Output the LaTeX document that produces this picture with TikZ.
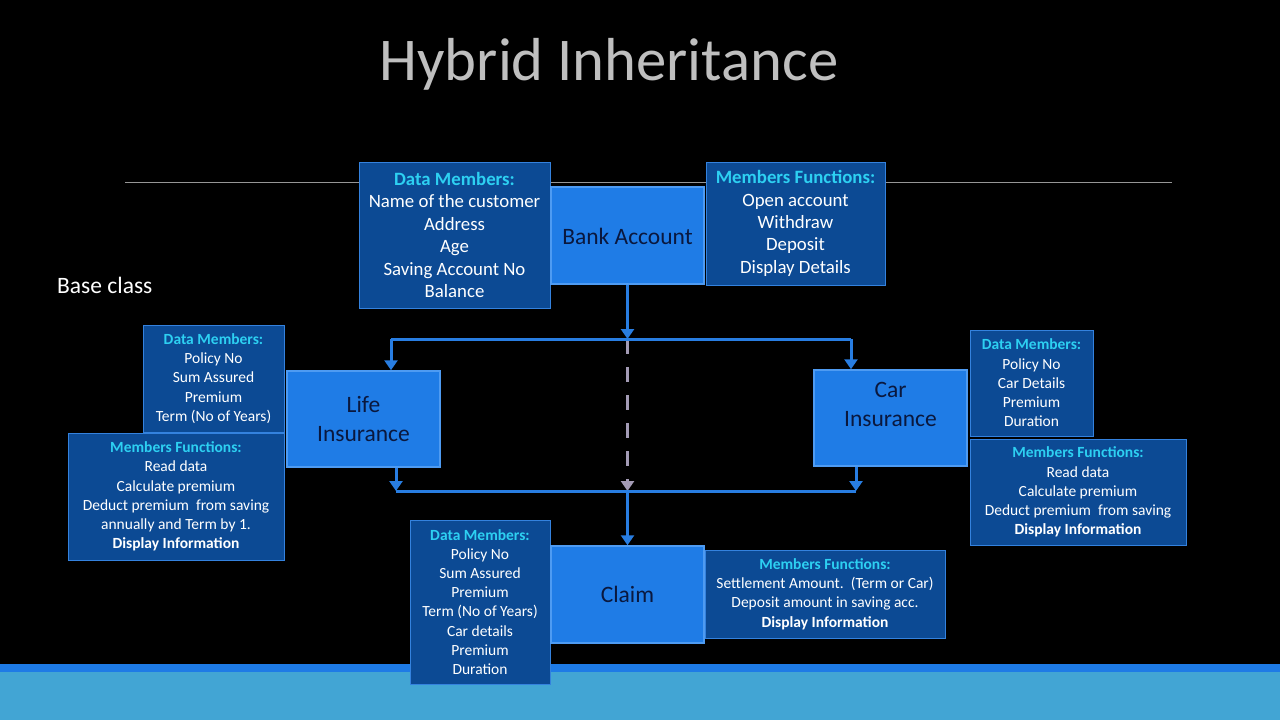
\documentclass[tikz,border=0pt]{standalone}
\usepackage{fontspec}
\setmainfont{Carlito}
\usetikzlibrary{arrows.meta}

\definecolor{boxfill}{RGB}{12,74,148}
\definecolor{boxedge}{RGB}{52,130,222}
\definecolor{classfill}{RGB}{31,124,230}
\definecolor{classedge}{RGB}{78,155,242}
\definecolor{classtext}{RGB}{10,24,62}
\definecolor{hdr}{RGB}{45,208,242}
\definecolor{conncol}{RGB}{40,125,225}
\definecolor{dashcol}{RGB}{163,155,181}
\definecolor{band}{RGB}{30,123,230}
\definecolor{lightband}{RGB}{66,165,212}
\definecolor{titlecol}{RGB}{191,191,191}
\definecolor{rulecol}{RGB}{150,150,150}

\newcommand{\hdrtext}[1]{{\bfseries\color{hdr}#1}}

\begin{document}
\begin{tikzpicture}[x=1pt,y=-1pt,
  infobox/.style={draw=boxedge, fill=boxfill, line width=1pt, inner sep=0pt,
    align=center, text=white},
  bigtext/.style={font=\fontsize{18.8}{22.4}\selectfont},
  smalltext/.style={font=\fontsize{15.5}{19.2}\selectfont},
  classbox/.style={draw=classedge, fill=classfill, line width=1.5pt, inner sep=0pt,
    minimum width=153pt, minimum height=97pt},
  classlabel/.style={text=classtext, align=center, font=\fontsize{23.5}{29}\selectfont},
  conn/.style={draw=conncol, line width=3pt},
  tip/.style={-{Triangle[width=13pt,length=10pt]}},
  inh/.style={draw=dashcol, line width=3pt, dash pattern=on 15pt off 13pt,
    -{Triangle[width=13pt,length=10pt]}}
]
% page background and footer band
\fill[black] (0,0) rectangle (1280,720);
\useasboundingbox (0,0) rectangle (1280,720);
\fill[band] (0,664) rectangle (1280,672);
\fill[lightband] (0,672) rectangle (1280,720);

% title and rule
\node[anchor=base, text=titlecol, font=\fontsize{60.7}{66}\selectfont, inner sep=0pt]
  (title) at (609,80) {Hybrid Inheritance};
\draw[rulecol, line width=1pt] (125,182) -- (1172,182);
\node[anchor=base west, text=white, font=\fontsize{23.5}{27}\selectfont, inner sep=0pt]
  (baselbl) at (57,293) {Base class};

% base class
\node[infobox, bigtext, minimum width=191pt, minimum height=146pt] (bankdata) at (454.5,235)
  {\hdrtext{Data Members:}\\Name of the customer\\Address\\Age\\Saving Account No\\Balance};
\node[classbox] (bank) at (627.5,235.5) {};
\node[classlabel] (banklbl) at (627.5,236) {Bank Account};
\node[infobox, bigtext, minimum width=179pt, minimum height=123pt] (bankfunc) at (795.5,223.5)
  {\hdrtext{Members Functions:}\\Open account\\Withdraw\\Deposit\\Display Details};

% life insurance
\node[infobox, smalltext, minimum width=141pt, minimum height=107pt] (lifedata) at (213.5,378.5)
  {\hdrtext{Data Members:}\\Policy No\\Sum Assured\\Premium\\Term (No of Years)};
\node[infobox, smalltext, minimum width=216pt, minimum height=127pt] (lifefunc) at (176,496.5)
  {\hdrtext{Members Functions:}\\Read data\\Calculate premium\\Deduct premium\ \ from saving\\annually and Term by 1.\\\textbf{Display Information}};
\node[classbox, minimum height=96pt] (life) at (363.5,419) {};
\node[classlabel] (lifelbl) at (363.5,418.5) {Life\\Insurance};

% car insurance
\node[classbox, minimum height=96pt] (car) at (890.5,418) {};
\node[classlabel] (carlbl) at (890.5,404) {Car\\Insurance};
\node[infobox, smalltext, minimum width=123pt, minimum height=106pt] (cardata) at (1031.5,383)
  {\hdrtext{Data Members:}\\Policy No\\Car Details\\Premium\\Duration};
\node[infobox, smalltext, minimum width=216pt, minimum height=106pt] (carfunc) at (1078,492)
  {\hdrtext{Members Functions:}\\Read data\\Calculate premium\\Deduct premium\ \ from saving\\\textbf{Display Information}};

% claim
\node[infobox, smalltext, minimum width=140pt, minimum height=164pt] (claimdata) at (480,602)
  {\hdrtext{Data Members:}\\Policy No\\Sum Assured\\Premium\\Term (No of Years)\\Car details\\Premium\\Duration};
\node[classbox] (claim) at (627.5,594.5) {};
\node[classlabel] (claimlbl) at (627.5,594.5) {Claim};
\node[infobox, smalltext, minimum width=240pt, minimum height=88pt] (claimfunc) at (825,594)
  {\hdrtext{Members Functions:}\\Settlement Amount.\ \ (Term or Car)\\Deposit amount in saving acc.\\\textbf{Display Information}};

% junctions of the inheritance connectors
\coordinate (jtop) at (627.5,339);
\coordinate (jl) at (391,339);
\coordinate (jr) at (851,339);
\coordinate (jbot) at (627.5,491);
\coordinate (kl) at (396,491);
\coordinate (kr) at (856,491);

% connectors
\draw[inh] (jtop) -- (jbot);
\draw[conn] (jl) -- (jr);
\draw[conn, tip] (bank.south) -- (jtop);
\draw[conn, tip] (jl) -- (jl |- life.north);
\draw[conn, tip] (jr) -- (jr |- car.north);
\draw[conn] (kl) -- (kr);
\draw[conn, tip] (kl |- life.south) -- (kl);
\draw[conn, tip] (kr |- car.south) -- (kr);
\draw[conn, tip] (jbot) -- (claim.north);
\end{tikzpicture}
\end{document}
